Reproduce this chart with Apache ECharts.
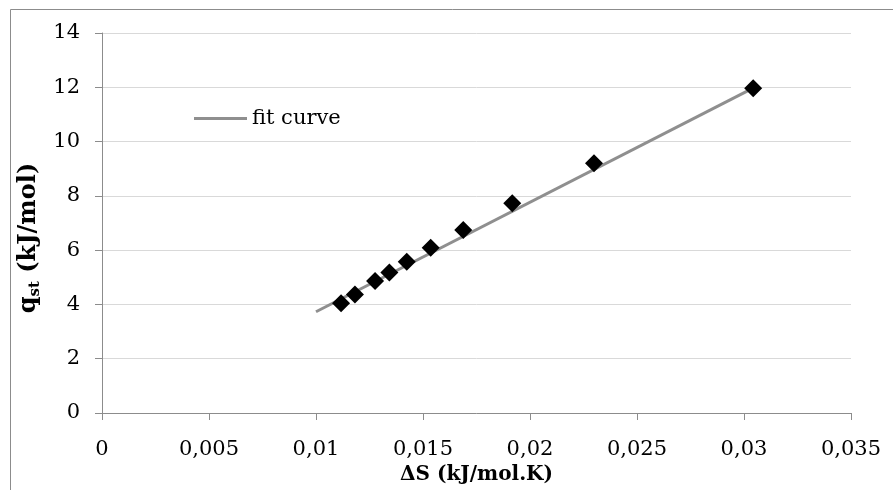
<!DOCTYPE html>
<html>
<head>
<meta charset="utf-8">
<script src="https://cdn.jsdelivr.net/npm/echarts@6/dist/echarts.min.js"></script>
<style>
html,body{margin:0;padding:0;background:#fff;}
#main{width:893px;height:490px;}
</style>
</head>
<body>
<div id="main"></div>
<script>
// Data
var dS = [0.01117, 0.01182, 0.01276, 0.01343, 0.01424, 0.01536, 0.01688, 0.01917, 0.02299, 0.03043];
var qst = [4.04, 4.37, 4.86, 5.18, 5.57, 6.09, 6.74, 7.73, 9.20, 11.96];
var fitX = [0.0100, 0.0304];
var fitY = [3.73, 11.96];
var xTicks = [0, 0.005, 0.01, 0.015, 0.02, 0.025, 0.03, 0.035];
var yTicks = [0, 2, 4, 6, 8, 10, 12, 14];

var pts = dS.map(function (x, i) { return [x, qst[i]]; });
var fit = fitX.map(function (x, i) { return [x, fitY[i]]; });

function fmt(v) {
  return parseFloat(Number(v).toPrecision(6)).toString().replace('.', ',');
}

var FONT = 'DejaVu Serif';
var chart = echarts.init(document.getElementById('main'));
chart.setOption({
  backgroundColor: '#fff',
  animation: false,
  graphic: [{
    type: 'rect',
    left: 8, top: 7,
    shape: { x: 0, y: 0, width: 1000, height: 1000 },
    style: { fill: 'none', stroke: '#8c8c8c', lineWidth: 1 },
    silent: true
  }],
  grid: { left: 102, right: 42, top: 33, bottom: 77, containLabel: false },
  legend: {
    data: [{ name: 'fit curve', icon: 'rect' }],
    left: 194, top: 108,
    padding: 0,
    itemWidth: 53, itemHeight: 3,
    itemGap: 0,
    textStyle: { fontFamily: FONT, fontSize: 21, color: '#000', padding: [0, 0, 0, 0] }
  },
  xAxis: {
    type: 'value',
    min: xTicks[0], max: xTicks[xTicks.length - 1], interval: 0.005,
    name: 'ΔS (kJ/mol.K)',
    nameLocation: 'middle',
    nameGap: 49,
    nameTextStyle: { fontFamily: FONT, fontSize: 20, fontWeight: 'bold', color: '#000' },
    axisLine: { show: true, lineStyle: { color: '#8c8c8c', width: 1 } },
    axisTick: { show: true, inside: false, length: 7, lineStyle: { color: '#8c8c8c' } },
    axisLabel: { fontFamily: FONT, fontSize: 21, color: '#000', margin: 26, formatter: fmt },
    splitLine: { show: false }
  },
  yAxis: {
    type: 'value',
    min: yTicks[0], max: yTicks[yTicks.length - 1], interval: 2,
    name: '{b|q}{s|st}{b| (kJ/mol)}',
    nameLocation: 'middle',
    nameGap: 53,
    nameRotate: 90,
    nameTextStyle: {
      padding: [0, 30, 0, 0],
      rich: {
        b: { fontFamily: FONT, fontSize: 24, fontWeight: 'bold', color: '#000', verticalAlign: 'middle' },
        s: { fontFamily: FONT, fontSize: 15, fontWeight: 'bold', color: '#000', verticalAlign: 'bottom', padding: [12, 0, 0, 0] }
      }
    },
    axisLine: { show: true, lineStyle: { color: '#8c8c8c', width: 1 } },
    axisTick: { show: true, inside: false, length: 7, lineStyle: { color: '#8c8c8c' } },
    axisLabel: { fontFamily: FONT, fontSize: 21, color: '#000', margin: 22, formatter: fmt },
    splitLine: { show: true, lineStyle: { color: '#d9d9d9', width: 1 } }
  },
  series: [
    {
      name: 'fit curve',
      type: 'line',
      data: fit,
      showSymbol: false,
      symbol: 'none',
      lineStyle: { color: '#8f8f8f', width: 3 },
      itemStyle: { color: '#8f8f8f' },
      z: 2
    },
    {
      name: 'data',
      type: 'scatter',
      data: pts,
      symbol: 'diamond',
      symbolSize: 18,
      itemStyle: { color: '#000', opacity: 1 },
      z: 3
    }
  ]
});
</script>
</body>
</html>
